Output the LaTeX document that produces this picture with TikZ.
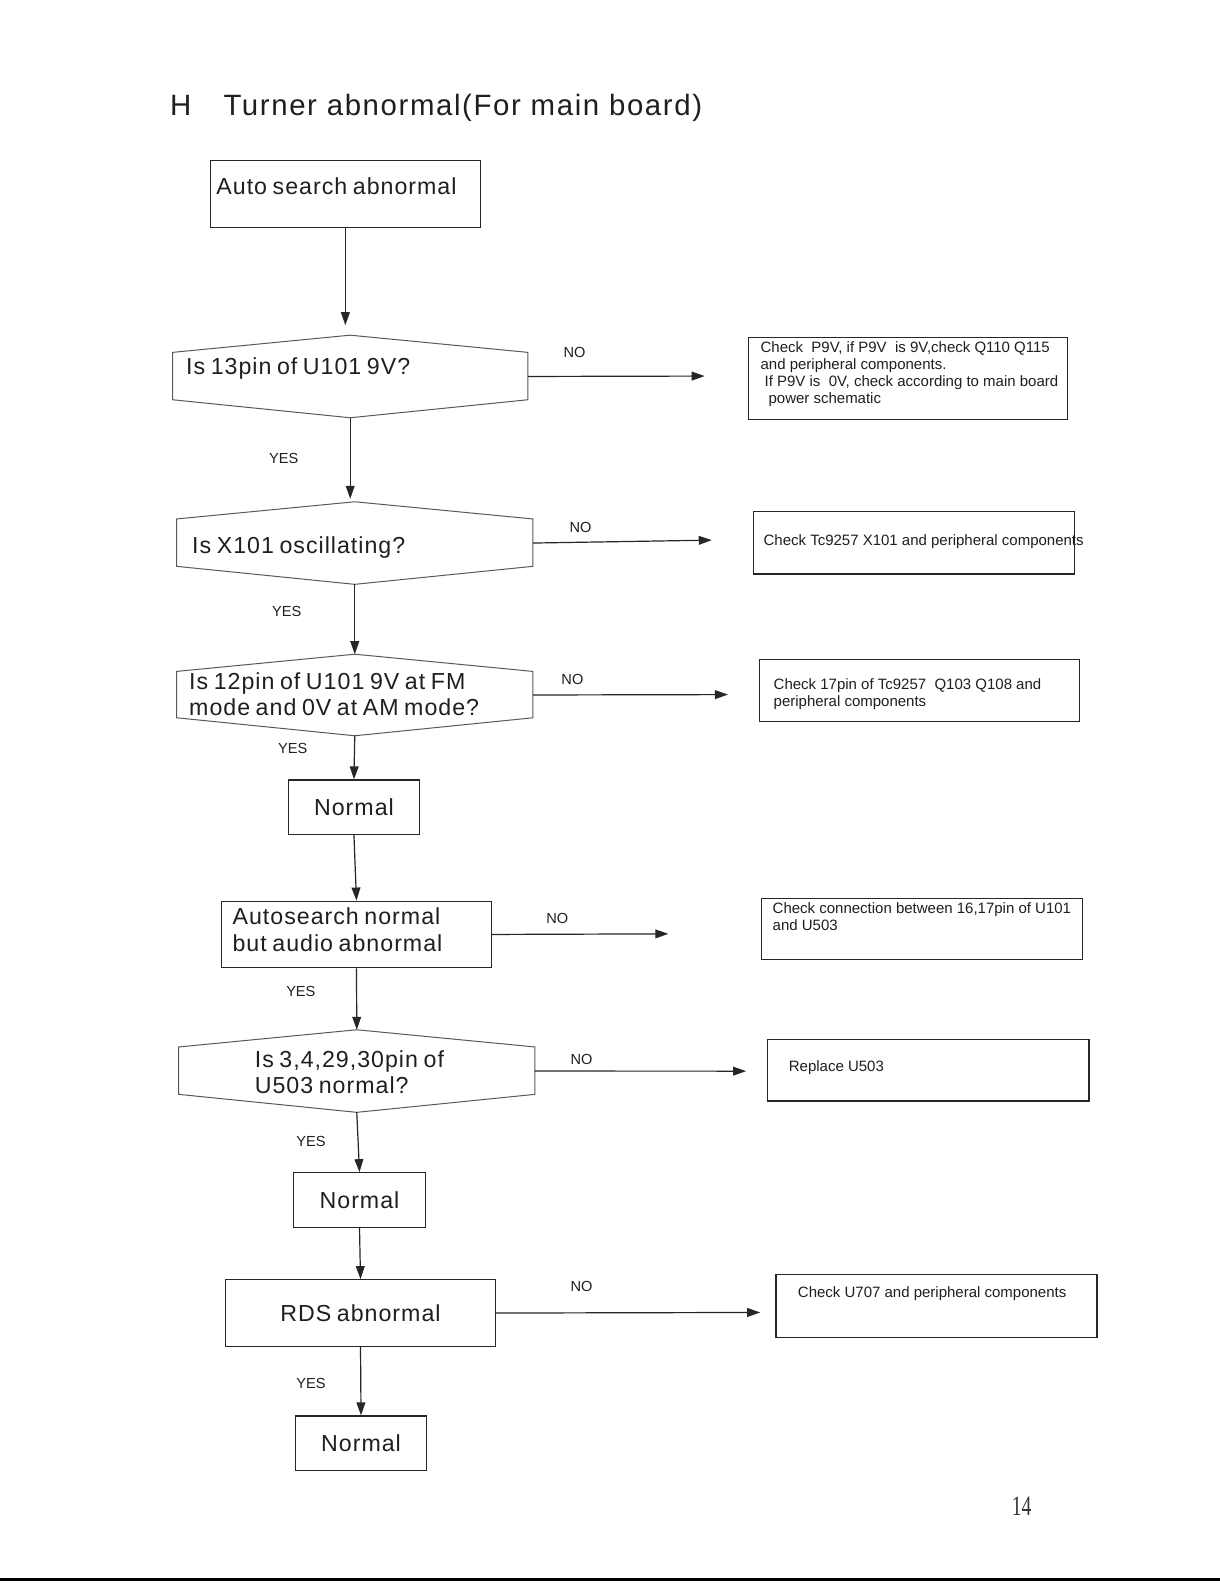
\documentclass[tikz,border=0pt]{standalone}
\usepackage{fontspec}
\setmainfont{Liberation Sans}
\newfontfamily\bigfont[LetterSpace=4.3,WordSpace=0.75]{Liberation Sans}
\newfontfamily\titlefont[LetterSpace=5.5,WordSpace=1.0]{Liberation Sans}
\newfontfamily\pagefont[FakeStretch=0.7]{Liberation Serif}
\usetikzlibrary{arrows.meta,positioning,calc}
\newcommand{\pxu}{0.505pt}

\begin{document}
\begin{tikzpicture}[
    x=0.505pt, y=-0.505pt,
    box/.style={rectangle, draw=black!85, line width=0.6pt, inner sep=0pt, anchor=north west},
    hexa/.style={rectangle, draw=none, inner sep=0pt, anchor=north west},
    title/.style={font=\titlefont\fontsize{14.7}{16}\selectfont, text=black!88, inner sep=0pt, anchor=base west},
    big/.style={font=\bigfont\fontsize{11.6}{13.1}\selectfont, text=black!88, inner sep=0pt, align=left},
    small/.style={font=\fontsize{7.5}{8.6}\selectfont, text=black!88, inner sep=0pt, align=left, anchor=base west},
    lbl/.style={font=\fontsize{7.3}{8}\selectfont, text=black!88, inner sep=0pt},
    arr/.style={-{Triangle[length=6.5pt,width=4.4pt]}, line width=0.6pt, draw=black!85},
    hexline/.style={draw=black!65, line width=0.5pt}
]
    \fill [white] (0,0) rectangle (1208,1568);
    \useasboundingbox (0,0) rectangle (1208,1568);

    % heading
    \node [title] (ttlH) at (168,114) {H};
    \node [title] (ttl) at (221,114) {Turner abnormal(For main board)};

    % left column (base west of a multi-line node = last line)
    \node [box, minimum width=267*\pxu, minimum height=67*\pxu] (aut) at (208,158) {};
    \node [big, anchor=base west] (autT) at (214,193) {Auto search abnormal};

    \node [hexa, minimum width=351*\pxu, minimum height=81*\pxu] (h1) at (171,332) {};
    \node [big, anchor=base west] (h1T) at (184,371) {Is 13pin of U101 9V?};

    \node [hexa, minimum width=352*\pxu, minimum height=81*\pxu] (h2) at (175,497) {};
    \node [big, anchor=base west] (h2T) at (190,548) {Is X101 oscillating?};

    \node [hexa, minimum width=352*\pxu, minimum height=80*\pxu] (h3) at (175,648) {};
    \node [big, anchor=base west] (h3T) at (187,709) {Is 12pin of U101 9V at FM\\mode and 0V at AM mode?};

    \node [box, minimum width=130*\pxu, minimum height=54*\pxu, big] (n1) at (285,772) {Normal};

    \node [box, minimum width=267*\pxu, minimum height=66*\pxu] (a2) at (219,892) {};
    \node [big, anchor=base west] (a2T) at (230,942) {Autosearch normal\\but audio abnormal};

    \node [hexa, minimum width=352*\pxu, minimum height=81*\pxu] (h4) at (177,1020) {};
    \node [big, anchor=base west] (h4T) at (252,1083) {Is 3,4,29,30pin of\\U503 normal?};

    \node [box, minimum width=131*\pxu, minimum height=54*\pxu, big] (n2) at (290,1161) {Normal};
    \node [box, minimum width=267*\pxu, minimum height=66*\pxu, big] (rds) at (223,1267) {RDS abnormal};
    \node [box, minimum width=130*\pxu, minimum height=54*\pxu, big] (n3) at (292,1402) {Normal};

    % hexagon outlines
    \foreach \h in {h1,h2,h3,h4}
        \draw [hexline] (\h.north) -- ([yshift=-8.6pt]\h.north east) -- ([yshift=9pt]\h.south east)
            -- (\h.south) -- ([yshift=9pt]\h.south west) -- ([yshift=-8.6pt]\h.north west) -- cycle;

    % right column
    \node [box, minimum width=316*\pxu, minimum height=81*\pxu] (c1) at (741,334) {};
    \node [small] (c1T) at (753,400) {Check\ \ P9V, if P9V\ \ is 9V,check Q110 Q115\\and peripheral components.\\\hspace*{2pt}If P9V is\ \ 0V, check according to main board\\\hspace*{4pt}power schematic};

    \node [box, minimum width=318*\pxu, minimum height=62*\pxu] (c2) at (746,506) {};
    \node [small] (c2T) at (756,540) {Check Tc9257 X101 and peripheral components};

    \node [box, minimum width=317*\pxu, minimum height=61*\pxu] (c3) at (752,653) {};
    \node [small] (c3T) at (766,700) {Check 17pin of Tc9257\ \ Q103 Q108 and\\peripheral components};

    \node [box, minimum width=318*\pxu, minimum height=61*\pxu] (c4) at (754,889) {};
    \node [small] (c4T) at (765,922) {Check connection between 16,17pin of U101\\and U503};

    \node [box, minimum width=318*\pxu, minimum height=61*\pxu] (c5) at (760,1029) {};
    \node [small] (c5T) at (781,1061) {Replace U503};

    \node [box, minimum width=318*\pxu, minimum height=62*\pxu] (c6) at (768,1262) {};
    \node [small] (c6T) at (790,1285) {Check U707 and peripheral components};

    % free ends of the NO arrows
    \coordinate (e1) at (698,372.5);
    \coordinate (e2) at (705,535);
    \coordinate (e3) at (721,688);
    \coordinate (e4) at (662,925);
    \coordinate (e5) at (739,1061);
    \coordinate (e6) at (753,1300);

    % YES arrows
    \draw [arr, shorten >=5pt] (aut.south) -- (aut.south |- h1.north);
    \draw [arr, shorten >=1.5pt] (h1.south) -- (h1.south |- h2.north);
    \draw [arr] (h2.south) -- (h3.north);
    \draw [arr] (h3.south) -- (n1.north);
    \draw [arr] (n1.south) -- (a2.north);
    \draw [arr] (a2.south) -- (h4.north);
    \draw [arr] (h4.south) -- (n2.north);
    \draw [arr] (n2.south) -- (rds.north);
    \draw [arr] (rds.south) -- (n3.north);

    % NO arrows
    \draw [arr] (h1.east) -- (e1);
    \draw [arr] (h2.east) -- (e2);
    \draw [arr] (h3.east) -- (e3);
    \draw [arr] (a2.east) -- (e4);
    \draw [arr] (h4.east) -- (e5);
    \draw [arr] (rds.east) -- (e6);

    % labels
    \node [lbl] (y1) at (281,454) {YES};
    \node [lbl] (y2) at (284,606) {YES};
    \node [lbl] (y3) at (290,741) {YES};
    \node [lbl] (y4) at (298,982) {YES};
    \node [lbl] (y5) at (308,1131) {YES};
    \node [lbl] (y6) at (308,1370) {YES};
    \node [lbl] (no1) at (569,349) {NO};
    \node [lbl] (no2) at (575,522) {NO};
    \node [lbl] (no3) at (567,673) {NO};
    \node [lbl] (no4) at (552,910) {NO};
    \node [lbl] (no5) at (576,1049) {NO};
    \node [lbl] (no6) at (576,1274) {NO};

    % page number and edge
    \node [font=\pagefont\fontsize{14}{14}\selectfont, text=black!80, inner sep=0pt] (pg) at (1012,1492) {14};
    \draw [line width=1.5pt] (0,1565) -- (1208,1565);
\end{tikzpicture}
\end{document}
